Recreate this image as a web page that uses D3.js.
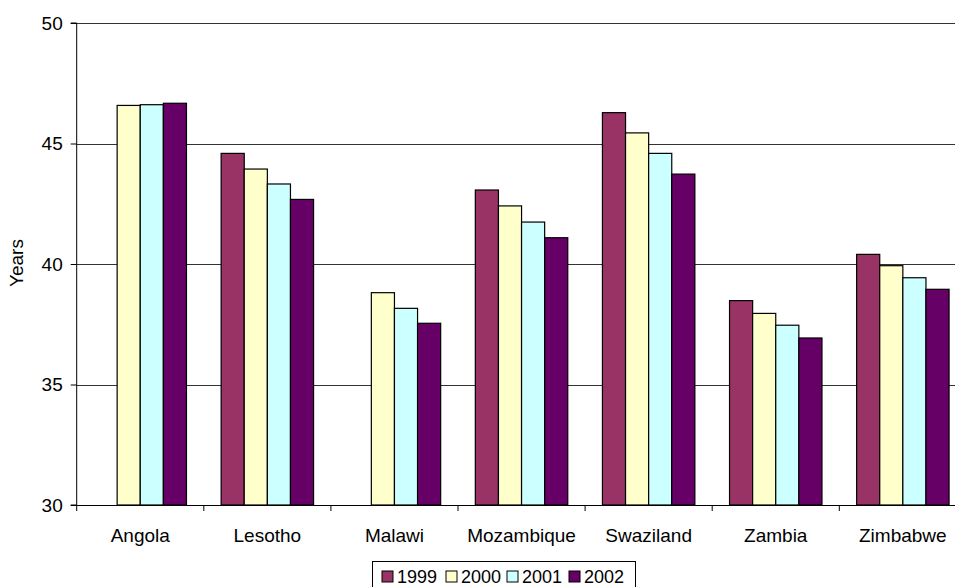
<!DOCTYPE html>
<html>
<head>
<meta charset="utf-8">
<script src="https://cdn.jsdelivr.net/npm/d3@7"></script>
<style>
  html, body { margin: 0; padding: 0; background: #fff; }
  svg { display: block; font-family: "Liberation Sans", Arial, sans-serif; }
</style>
</head>
<body>
<svg id="chart" width="955" height="587"></svg>
<script>
// Life expectancy (years) by country, 1999–2002
const countries = ["Angola", "Lesotho", "Malawi", "Mozambique", "Swaziland", "Zambia", "Zimbabwe"];
const years = ["1999", "2000", "2001", "2002"];
const values1999 = [null, 44.59, null, 43.07, 46.28, 38.48, 40.40];
const values2000 = [46.58, 43.94, 38.81, 42.41, 45.44, 37.95, 39.93];
const values2001 = [46.61, 43.32, 38.16, 41.74, 44.59, 37.46, 39.43];
const values2002 = [46.67, 42.68, 37.54, 41.09, 43.73, 36.93, 38.95];
const yTicks = [30, 35, 40, 45, 50];
const colors = ["#993366", "#FFFFCC", "#CCFFFF", "#660066"];

const seriesValues = [values1999, values2000, values2001, values2002];

const svg = d3.select("#chart");
const fontSize = 19;

const plotLeft = 76.7, plotTop = 23, plotBottom = 505;
const band = 127.1;
const plotRight = plotLeft + band * countries.length;

const x0 = d3.scaleBand().domain(countries).range([plotLeft, plotRight]).padding(0);
const barW = band / (years.length + 1.5);
const x1 = d3.scaleBand().domain(years)
  .range([barW * 0.75, band - barW * 0.75]).padding(0);
const y = d3.scaleLinear().domain([30, 50]).range([plotBottom, plotTop]);

// Horizontal gridlines
svg.append("g")
  .selectAll("line")
  .data(yTicks.filter(t => t > 30))
  .join("line")
  .attr("x1", plotLeft).attr("x2", plotRight)
  .attr("y1", d => Math.round(y(d)) + 0.5).attr("y2", d => Math.round(y(d)) + 0.5)
  .attr("stroke", "#333").attr("stroke-width", 1);

// Bars
const rows = countries.map((c, i) => ({
  country: c,
  bars: years.map((yr, j) => ({ year: yr, idx: j, value: seriesValues[j][i] }))
}));

svg.append("g")
  .selectAll("g")
  .data(rows)
  .join("g")
  .attr("transform", d => `translate(${x0(d.country)},0)`)
  .selectAll("rect")
  .data(d => d.bars.filter(b => b.value != null))
  .join("rect")
  .attr("x", d => x1(d.year))
  .attr("y", d => y(d.value))
  .attr("width", x1.bandwidth())
  .attr("height", d => y(30) - y(d.value))
  .attr("fill", d => colors[d.idx])
  .attr("stroke", "#000")
  .attr("stroke-width", 1.2);

// Y axis
const yAxis = d3.axisLeft(y).tickValues(yTicks).tickSize(6).tickPadding(8);
const gy = svg.append("g")
  .attr("transform", `translate(${plotLeft},0)`)
  .call(yAxis);
gy.select(".domain").attr("stroke", "#000").attr("d", `M-6,${plotTop}H0V${plotBottom}H-6`);
gy.selectAll(".tick line").attr("stroke", "#000");
gy.selectAll(".tick text")
  .attr("font-size", fontSize)
  .attr("font-family", "Liberation Sans, Arial, sans-serif")
  .attr("fill", "#000");

// X axis with ticks at category boundaries
const gx = svg.append("g")
  .attr("transform", `translate(0,${plotBottom})`);
gx.append("line")
  .attr("x1", plotLeft).attr("x2", plotRight)
  .attr("y1", 0.5).attr("y2", 0.5)
  .attr("stroke", "#000");
gx.selectAll("line.tick")
  .data(d3.range(countries.length + 1))
  .join("line")
  .attr("class", "tick")
  .attr("x1", i => plotLeft + i * band).attr("x2", i => plotLeft + i * band)
  .attr("y1", 0).attr("y2", 6)
  .attr("stroke", "#000");
gx.selectAll("text")
  .data(countries)
  .join("text")
  .attr("x", d => x0(d) + x0.bandwidth() / 2)
  .attr("y", 37)
  .attr("text-anchor", "middle")
  .attr("font-size", fontSize)
  .attr("fill", "#000")
  .text(d => d);

// Y axis title
svg.append("text")
  .attr("transform", "translate(23,263) rotate(-90)")
  .attr("text-anchor", "middle")
  .attr("font-size", fontSize)
  .attr("fill", "#000")
  .text("Years");

// Legend
const legend = svg.append("g");
legend.append("rect")
  .attr("x", 372.5).attr("y", 561.5)
  .attr("width", 263).attr("height", 40)
  .attr("fill", "#fff").attr("stroke", "#000");
const legendX = [382, 446, 507, 569];
const items = legend.selectAll("g.item")
  .data(years)
  .join("g")
  .attr("class", "item")
  .attr("transform", (d, i) => `translate(${legendX[i]},571)`);
items.append("rect")
  .attr("width", 11).attr("height", 11)
  .attr("fill", (d, i) => colors[i])
  .attr("stroke", "#000");
items.append("text")
  .attr("x", 15).attr("y", 12)
  .attr("font-size", 18)
  .attr("fill", "#000")
  .text(d => d);
</script>
</body>
</html>
